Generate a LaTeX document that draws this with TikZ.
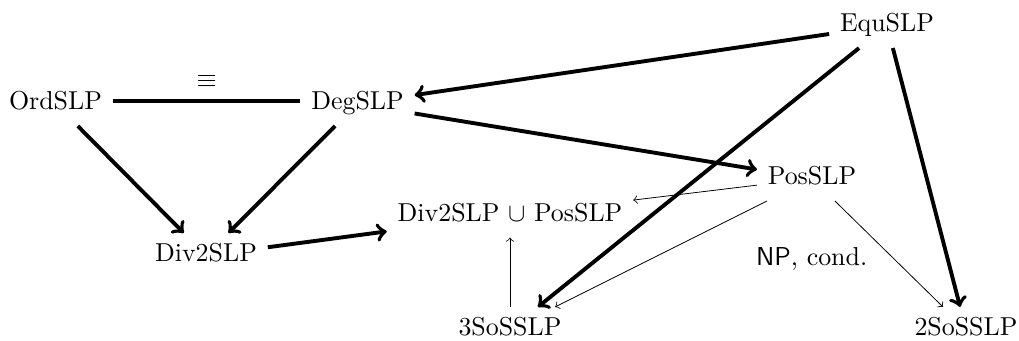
\documentclass[tikz,border=0pt]{standalone}
\begin{document}
\begin{tikzpicture}[x=0.386pt,y=-0.386pt,
  cls/.style={inner sep=4pt,text height=7pt,text depth=2pt},
  strong/.style={line width=1.5pt,->},
  weak/.style={line width=0.3pt,->},
  equiv/.style={line width=1.5pt}]
\useasboundingbox (0,0) rectangle (1019,341);

% problem classes
\node[cls] (ord)  at (55.5,103.5)  {OrdSLP};
\node[cls] (deg)  at (357.5,103.5) {DegSLP};
\node[cls] (equ)  at (887,25.5)    {EquSLP};
\node[cls] (pos)  at (812,178.5)   {PosSLP};
\node[cls] (div)  at (206,255.5)   {Div2SLP};
\node[cls] (uni)  at (510,215)     {Div2SLP $\cup$ PosSLP};
\node[cls] (sos3) at (510,329.5)   {3SoSSLP};
\node[cls] (sos2) at (966,329.5)   {2SoSSLP};

% reductions
\draw[equiv] ([yshift=1.1pt]ord.east) -- node[above=1pt] {$\equiv$} ([yshift=1.1pt]deg.west);
\draw[strong] (ord) -- (div);
\draw[strong] (deg) -- (div);
\draw[strong] (div) -- (uni);
\draw[strong] (deg.east) ++(0,10) -- (pos);
\draw[strong] (equ) -- (deg);
\draw[strong] (equ) -- (sos3);
\draw[strong] (equ) -- (sos2);
\draw[weak] (pos) -- (uni);
\draw[weak] (pos) -- (sos3);
\draw[weak] (pos) -- node[left=7pt,pos=0.55] {\textsf{NP}, cond.} (sos2);
\draw[weak] (sos3) -- (uni);
\end{tikzpicture}
\end{document}
